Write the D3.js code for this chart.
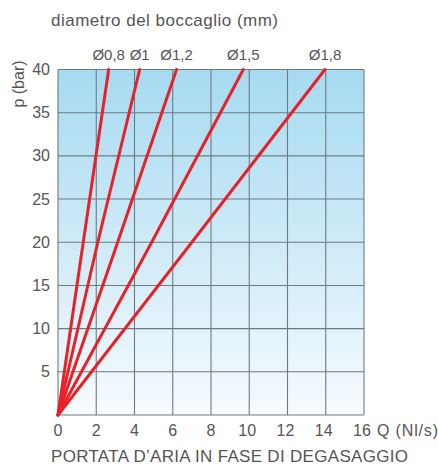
<!DOCTYPE html>
<html><head><meta charset="utf-8">
<script src="https://cdn.jsdelivr.net/npm/d3@7"></script>
<style>body{margin:0;background:#fff}text{font-family:"Liberation Sans",Arial,sans-serif;fill:#555555}</style>
</head><body><svg id="c" width="438" height="467"></svg>
<script>
const series = ["Ø0,8","Ø1","Ø1,2","Ø1,5","Ø1,8"];
const pressures = [0, 20, 40];
const flowByDiam = [
  [0, 1.32, 2.65],
  [0, 2.08, 4.27],
  [0, 3.12, 6.2],
  [0, 4.9, 9.69],
  [0, 7.0, 13.96]
];
const xTicks = [0,2,4,6,8,10,12,14,16];
const yTicks = [5,10,15,20,25,30,35,40];

const svg = d3.select("#c");
const x = d3.scaleLinear().domain([0,16]).range([58,364]);
const y = d3.scaleLinear().domain([0,40]).range([415,69.5]);

const defs = svg.append("defs");
const g = defs.append("linearGradient").attr("id","bg").attr("x1",0).attr("y1",0).attr("x2",0).attr("y2",1);
g.append("stop").attr("offset","0%").attr("stop-color","#a6daf1");
g.append("stop").attr("offset","100%").attr("stop-color","#f6fbfe");

svg.append("rect").attr("x",x(0)).attr("y",y(40)).attr("width",x(16)-x(0)).attr("height",y(0)-y(40)).attr("fill","url(#bg)");

const grid = svg.append("g").attr("stroke","#6f7a80").attr("stroke-width",1.1);
grid.selectAll("line.v").data(xTicks).join("line").attr("x1",d=>x(d)).attr("x2",d=>x(d)).attr("y1",y(0)).attr("y2",y(40));
grid.selectAll("line.h").data([0].concat(yTicks)).join("line").attr("y1",d=>y(d)).attr("y2",d=>y(d)).attr("x1",x(0)).attr("x2",x(16));

const line = d3.line().x(d=>x(d[0])).y(d=>y(d[1]));
svg.append("g").selectAll("path").data(flowByDiam).join("path")
  .attr("d",d=>line(d.map((q,i)=>[q,pressures[i]])))
  .attr("fill","none").attr("stroke","#e62229").attr("stroke-width",3).attr("stroke-linecap","round");

svg.append("g").selectAll("text").data(series).join("text")
  .attr("x",(d,i)=>x(flowByDiam[i][flowByDiam[i].length-1])).attr("y",60)
  .attr("text-anchor","middle").attr("font-size",15).text(d=>d);

svg.append("g").selectAll("text").data(yTicks).join("text")
  .attr("x",50).attr("y",d=>y(d)+5.5).attr("text-anchor","end").attr("font-size",16).text(d=>d);

svg.append("g").selectAll("text").data(xTicks).join("text")
  .attr("x",d=>x(d)-(d>=10?2:0)).attr("y",436).attr("text-anchor","middle").attr("font-size",16).text(d=>d);

svg.append("text").attr("x",377).attr("y",436).attr("font-size",16).attr("textLength",61).text("Q (Nl/s)");
svg.append("text").attr("transform","translate(24,84) rotate(-90)").attr("text-anchor","middle").attr("font-size",16).text("p (bar)");
svg.append("text").attr("x",51).attr("y",26).attr("font-size",17).attr("textLength",227).text("diametro del boccaglio (mm)");
svg.append("text").attr("x",51).attr("y",462).attr("font-size",17).attr("textLength",357).text("PORTATA D’ARIA IN FASE DI DEGASAGGIO");
</script></body></html>
